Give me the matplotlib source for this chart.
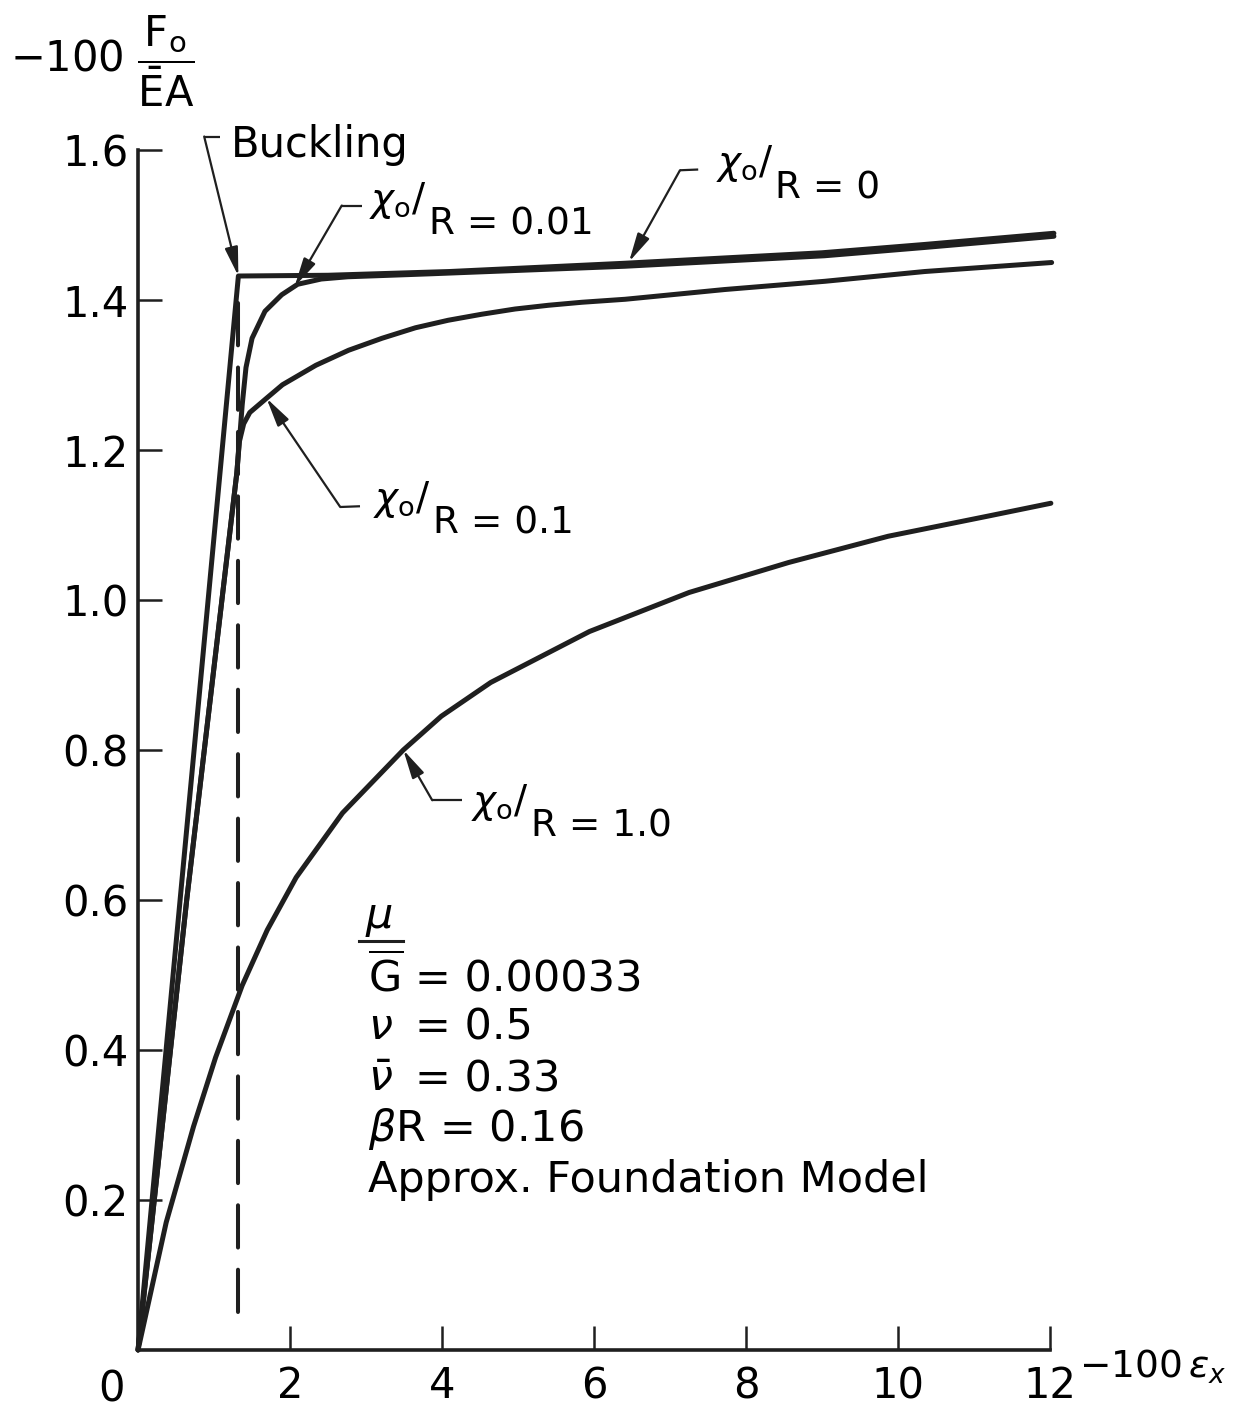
import matplotlib
matplotlib.use("Agg")
import matplotlib.pyplot as plt

plt.rcParams['font.family'] = ['DejaVu Sans']
plt.rcParams['mathtext.fontset'] = 'dejavusans'

# Axial strain (-100 eps_x) and load (-100 F0 / (E A)) for several imperfection ratios x0/R
strain_r0 = [0.0, 1.32, 2.50, 4.10, 6.40, 9.00, 10.34, 12.05]
load_r0 = [0.0, 1.432, 1.433, 1.438, 1.449, 1.463, 1.474, 1.489]

strain_r001 = [0.0, 0.64, 1.30, 1.34, 1.37, 1.42, 1.50, 1.67, 1.89, 2.10,
               2.41, 2.76, 3.86, 6.40, 9.03, 10.34, 12.05]
load_r001 = [0.0, 0.60, 1.17, 1.22, 1.26, 1.31, 1.349, 1.385, 1.407, 1.421,
             1.428, 1.431, 1.435, 1.445, 1.459, 1.470, 1.485]

strain_r01 = [0.0, 0.64, 1.30, 1.33, 1.39, 1.47, 1.69, 1.90, 2.34, 2.77, 3.21,
              3.65, 4.08, 4.52, 4.96, 5.40, 5.84, 6.41, 7.72, 9.04, 10.35, 12.02]
load_r01 = [0.0, 0.60, 1.17, 1.21, 1.235, 1.250, 1.269, 1.287, 1.313, 1.333, 1.349,
            1.363, 1.373, 1.381, 1.388, 1.393, 1.397, 1.401, 1.414, 1.425, 1.438, 1.450]

strain_r1 = [0.0, 0.37, 0.73, 1.02, 1.37, 1.70, 2.08, 2.69, 3.49, 3.99, 4.64,
             5.94, 7.25, 8.56, 9.87, 11.19, 12.01]
load_r1 = [0.0, 0.170, 0.298, 0.390, 0.486, 0.560, 0.630, 0.716, 0.800, 0.845, 0.890,
           0.958, 1.010, 1.050, 1.085, 1.112, 1.129]

# Buckling strain of the perfect cylinder (dashed line)
buckling_strain = 1.32
buckling_load = 1.432
buckling_dash_span = [0.05, 1.40]

x_ticks = [2, 4, 6, 8, 10, 12]
x_tick_labels = ['2', '4', '6', '8', '10', '12']
y_ticks = [0.2, 0.4, 0.6, 0.8, 1.0, 1.2, 1.4, 1.6]
y_tick_labels = ['0.2', '0.4', '0.6', '0.8', '1.0', '1.2', '1.4', '1.6']

ink = '#1f1f1f'
curve_lw = 3.6
leader_lw = 1.6

fig = plt.figure(figsize=(12.36, 14.10), dpi=100)
ax = fig.add_axes([0.1117, 0.0426, 0.7379, 0.851])
ax.set_xlim(0, 12)
ax.set_ylim(0, 1.6)

for xs, ys in [(strain_r0, load_r0), (strain_r001, load_r001),
               (strain_r01, load_r01), (strain_r1, load_r1)]:
    ax.plot(xs, ys, color=ink, lw=curve_lw, clip_on=False,
            solid_joinstyle='round', solid_capstyle='round')

ax.plot([buckling_strain, buckling_strain], buckling_dash_span, color=ink,
        lw=2.9, ls=(0, (10.5, 5.5)), dash_capstyle='round')

# axes styling
for side in ('top', 'right'):
    ax.spines[side].set_visible(False)
for side in ('left', 'bottom'):
    ax.spines[side].set_linewidth(2.6)
    ax.spines[side].set_color(ink)
ax.set_xticks(x_ticks)
ax.set_xticklabels(x_tick_labels)
ax.set_yticks(y_ticks)
ax.set_yticklabels(y_tick_labels)
ax.tick_params(axis='both', direction='in', length=17, width=1.8, color=ink,
               labelsize=30)
ax.tick_params(axis='x', pad=11)
ax.tick_params(axis='y', pad=7)

ax.text(-0.35, -0.025, '0', fontsize=30, ha='center', va='top')
ax.text(12.38, -0.022, r'$-100\,\epsilon_{x}$', fontsize=27, ha='left', va='center')
fig.text(0.008, 1 - 61 / 1410, r'$-100\ \dfrac{\mathrm{F_o}}{\bar{\mathrm{E}}\mathrm{A}}$',
         fontsize=30, ha='left', va='center')


def leader(tip, knee, stub_end):
    ax.plot([knee[0], stub_end[0]], [knee[1], stub_end[1]], color=ink,
            lw=leader_lw, clip_on=False, solid_capstyle='butt')
    ax.annotate('', xy=tip, xytext=knee, annotation_clip=False,
                arrowprops=dict(arrowstyle='-|>,head_length=0.7,head_width=0.16',
                                color=ink, lw=leader_lw, shrinkA=0, shrinkB=0,
                                mutation_scale=25))


def chi_label(x, y, value):
    ax.annotate(r'$\chi_{\mathrm{o}}/$', xy=(x, y), xytext=(0, 17),
                textcoords='offset points', ha='left', va='baseline',
                fontsize=28, annotation_clip=False)
    ax.annotate('R = ' + value, xy=(x, y), xytext=(43, 0),
                textcoords='offset points', ha='left', va='baseline',
                fontsize=27, annotation_clip=False)


# Buckling
leader((buckling_strain, buckling_load), (0.87, 1.618), (1.08, 1.618))
ax.text(1.22, 1.591, 'Buckling', fontsize=30, ha='left', va='baseline')

# imperfection labels
leader((6.46, 1.451), (7.13, 1.573), (7.37, 1.574))
chi_label(7.60, 1.536, '0')
leader((2.06, 1.418), (2.68, 1.526), (2.94, 1.526))
chi_label(3.04, 1.487, '0.01')
leader((1.69, 1.269), (2.66, 1.124), (2.92, 1.125))
chi_label(3.09, 1.089, '0.1')
leader((3.49, 0.800), (3.87, 0.733), (4.26, 0.733))
chi_label(4.38, 0.684, '1.0')

# material / model parameters
fs = 31
ax.text(3.17, 0.563, r'$\mu$', fontsize=fs, ha='center', va='baseline')
ax.plot([2.91, 3.48], [0.545, 0.545], color=ink, lw=2.2)
ax.text(3.02, 0.478, r'$\overline{\mathrm{G}}$', fontsize=fs, ha='left', va='baseline')
ax.text(3.64, 0.478, '= 0.00033', fontsize=fs, ha='left', va='baseline')
ax.text(3.02, 0.414, r'$\nu$', fontsize=fs, ha='left', va='baseline')
ax.text(3.64, 0.414, '= 0.5', fontsize=fs, ha='left', va='baseline')
ax.text(3.02, 0.345, r'$\bar{\nu}$', fontsize=fs, ha='left', va='baseline')
ax.text(3.64, 0.345, '= 0.33', fontsize=fs, ha='left', va='baseline')
ax.text(3.02, 0.278, r'$\beta$R = 0.16', fontsize=fs, ha='left', va='baseline')
ax.text(3.02, 0.211, 'Approx. Foundation Model', fontsize=fs, ha='left', va='baseline')

fig.savefig('out.png', dpi=100)
